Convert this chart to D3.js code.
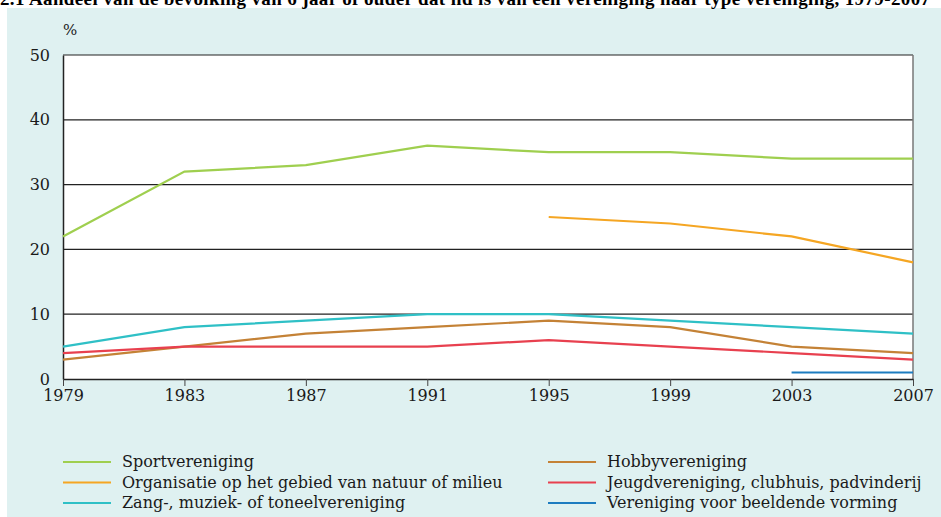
<!DOCTYPE html>
<html>
<head>
<meta charset="utf-8">
<script src="https://cdn.jsdelivr.net/npm/d3@7"></script>
<style>
  body { margin: 0; background: #fff; }
</style>
</head>
<body>
<script>
// ---- data ----
var years = [1979, 1983, 1987, 1991, 1995, 1999, 2003, 2007];
var yTicks = [0, 10, 20, 30, 40, 50];

var sport = [22, 32, 33, 36, 35, 35, 34, 34];
var natuur = [null, null, null, null, 25, 24, 22, 18];
var zang = [5, 8, 9, 10, 10, 9, 8, 7];
var hobby = [3, 5, 7, 8, 9, 8, 5, 4];
var jeugd = [4, 5, 5, 5, 6, 5, 4, 3];
var beeldend = [null, null, null, null, null, null, 1, 1];

var seriesNames = [
  "Sportvereniging",
  "Organisatie op het gebied van natuur of milieu",
  "Zang-, muziek- of toneelvereniging",
  "Hobbyvereniging",
  "Jeugdvereniging, clubhuis, padvinderij",
  "Vereniging voor beeldende vorming"
];
var seriesColors = ["#9fcf4f", "#f5a623", "#2fc0c6", "#c48236", "#e8404f", "#1d7cc0"];
var seriesValues = [sport, natuur, zang, hobby, jeugd, beeldend];

var title = "2.1 Aandeel van de bevolking van 6 jaar of ouder dat lid is van een vereniging naar type vereniging, 1979-2007";

var serif = "'DejaVu Serif', serif";

// ---- layout ----
var width = 941, height = 517;
var margin = {left: 63, right: 28, top: 55, bottom: 138};

var svg = d3.select("body").append("svg")
  .attr("width", width)
  .attr("height", height);

// panel background
svg.append("rect")
  .attr("x", 7).attr("y", 8)
  .attr("width", width - 7).attr("height", height - 8)
  .attr("fill", "#dff1f1");

// title, partly cut off at the top as in the source
svg.append("text")
  .attr("x", 0).attr("y", 5)
  .style("font-family", "'Liberation Serif', serif")
  .style("font-weight", "bold")
  .style("font-size", "19px")
  .attr("textLength", 930)
  .text(title);

var x = d3.scalePoint().domain(years).range([margin.left, width - margin.right]);
var y = d3.scaleLinear().domain([0, 50]).range([height - margin.bottom, margin.top]);

// plot area
svg.append("rect")
  .attr("x", margin.left).attr("y", margin.top)
  .attr("width", width - margin.left - margin.right)
  .attr("height", y(0) - margin.top)
  .attr("fill", "#fff");

// gridlines
svg.append("g").selectAll("line")
  .data(yTicks.slice(1))
  .enter().append("line")
  .attr("x1", margin.left).attr("x2", width - margin.right)
  .attr("y1", function(d) { return y(d); })
  .attr("y2", function(d) { return y(d); })
  .attr("stroke", "#222").attr("stroke-width", 1.2);

// right border
svg.append("line")
  .attr("x1", width - margin.right).attr("x2", width - margin.right)
  .attr("y1", margin.top).attr("y2", y(0))
  .attr("stroke", "#777").attr("stroke-width", 1.5);

// y axis
var yAxis = svg.append("g")
  .attr("transform", "translate(" + margin.left + ",0)")
  .call(d3.axisLeft(y).tickValues(yTicks).tickSize(0).tickPadding(13));
yAxis.select(".domain").attr("stroke", "#222").attr("stroke-width", 1.5);
yAxis.selectAll("text").style("font-family", serif).style("font-size", "16px").attr("fill", "#1a1a1a");

// x axis
var xAxis = svg.append("g")
  .attr("transform", "translate(0," + y(0) + ")")
  .call(d3.axisBottom(x).tickSizeInner(7).tickSizeOuter(0).tickPadding(4));
xAxis.select(".domain").attr("stroke", "#222").attr("stroke-width", 1.5);
xAxis.selectAll(".tick line").attr("stroke", "#444");
xAxis.selectAll("text").style("font-family", serif).style("font-size", "16px").attr("fill", "#1a1a1a");

svg.append("text")
  .attr("x", 63).attr("y", 35)
  .style("font-family", serif)
  .style("font-size", "15px")
  .attr("fill", "#1a1a1a")
  .text("%");

// lines
var line = d3.line()
  .defined(function(d) { return d != null; })
  .x(function(d, i) { return x(years[i]); })
  .y(function(d) { return y(d); });

svg.append("g").selectAll("path")
  .data(seriesValues)
  .enter().append("path")
  .attr("d", line)
  .attr("fill", "none")
  .attr("stroke", function(d, i) { return seriesColors[i]; })
  .attr("stroke-width", 2.2);

// legend
var legend = svg.append("g").selectAll("g")
  .data(seriesNames)
  .enter().append("g")
  .attr("transform", function(d, i) {
    var col = i < 3 ? 0 : 1;
    var row = i % 3;
    return "translate(" + (col ? 548 : 63) + "," + (462 + row * 20.5) + ")";
  });

legend.append("line")
  .attr("x1", 0).attr("x2", 48)
  .attr("stroke", function(d, i) { return seriesColors[i]; })
  .attr("stroke-width", 2.2);

legend.append("text")
  .attr("x", 59).attr("y", 5)
  .style("font-family", serif)
  .style("font-size", "16px")
  .attr("fill", "#1a1a1a")
  .text(function(d) { return d; });
</script>
</body>
</html>
